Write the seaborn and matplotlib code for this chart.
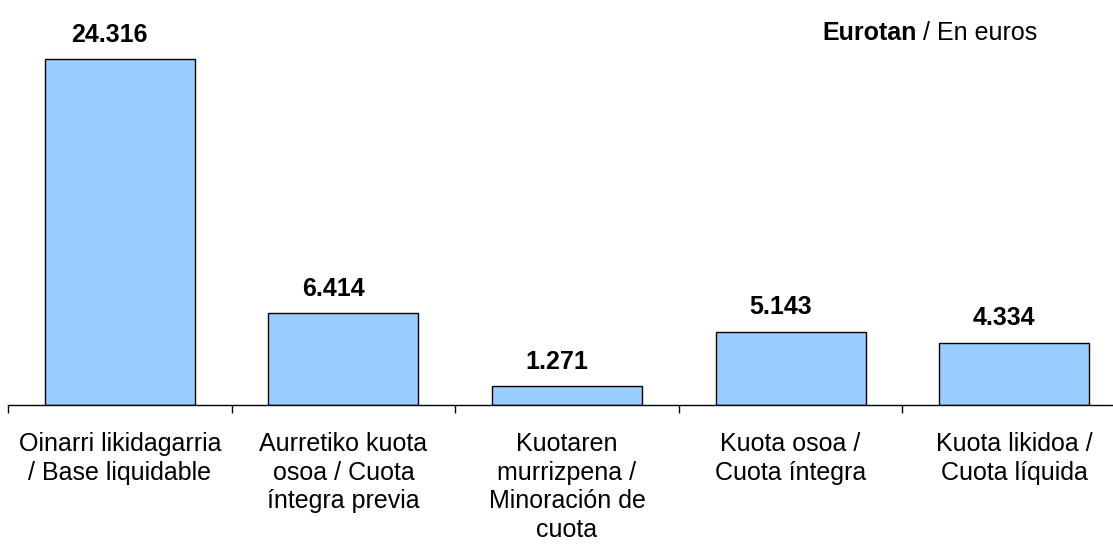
import matplotlib
matplotlib.use("Agg")
import matplotlib.pyplot as plt
import seaborn as sns
import pandas as pd

categories = [
    "Oinarri likidagarria\n/ Base liquidable",
    "Aurretiko kuota\nosoa / Cuota\níntegra previa",
    "Kuotaren\nmurrizpena /\nMinoración de\ncuota",
    "Kuota osoa /\nCuota íntegra",
    "Kuota likidoa /\nCuota líquida",
]
values = [24316, 6414, 1271, 5143, 4334]
value_labels = ["24.316", "6.414", "1.271", "5.143", "4.334"]

sns.set_theme(style="white")
plt.rcParams['font.family'] = ['Liberation Sans', 'DejaVu Sans']

df = pd.DataFrame({"cat": categories, "val": values})

fig = plt.figure(figsize=(11.13, 5.53), dpi=100)
W, H = 1113, 553
cw = 223.6
ax = fig.add_axes([8 / W, (H - 404.5) / H, 5 * cw / W, 404.5 / H])

sns.barplot(data=df, x="cat", y="val", ax=ax, color="#99CCFF", saturation=1,
            edgecolor="black", linewidth=1.0, width=0.67)

ax.set_ylim(0, 28500)
ax.set_xlim(-0.5, len(categories) - 0.5)
ax.set_yticks([])
ax.set_xlabel("")
ax.set_ylabel("")
for s in ["left", "right", "top"]:
    ax.spines[s].set_visible(False)
ax.spines["bottom"].set_color("black")
ax.spines["bottom"].set_linewidth(1.0)

ax.set_xticks(range(len(categories)))
ax.set_xticklabels(categories, fontsize=18, linespacing=1.24, color="black")
ax.set_xticks([i - 0.5 for i in range(len(categories) + 1)], minor=True)
ax.tick_params(axis="x", which="both", bottom=True)
ax.tick_params(axis="x", which="major", length=0, pad=20)
ax.tick_params(axis="x", which="minor", length=6, width=1.0, color="black", direction="out")

for i, (v, lab) in enumerate(zip(values, value_labels)):
    ax.annotate(lab, xy=(i, v), xytext=(-7.5, 9), textcoords="offset points",
                ha="center", va="bottom", fontsize=18, fontweight="bold", color="black")

t1 = fig.text(822 / W, (H - 40) / H, "Eurotan", fontsize=18, fontweight="bold",
              ha="left", va="baseline", color="black")
ax.annotate(" / En euros", xy=(1, 0), xycoords=t1, ha="left", va="bottom",
            fontsize=18, color="black", annotation_clip=False)

fig.savefig("out.png", dpi=100)
